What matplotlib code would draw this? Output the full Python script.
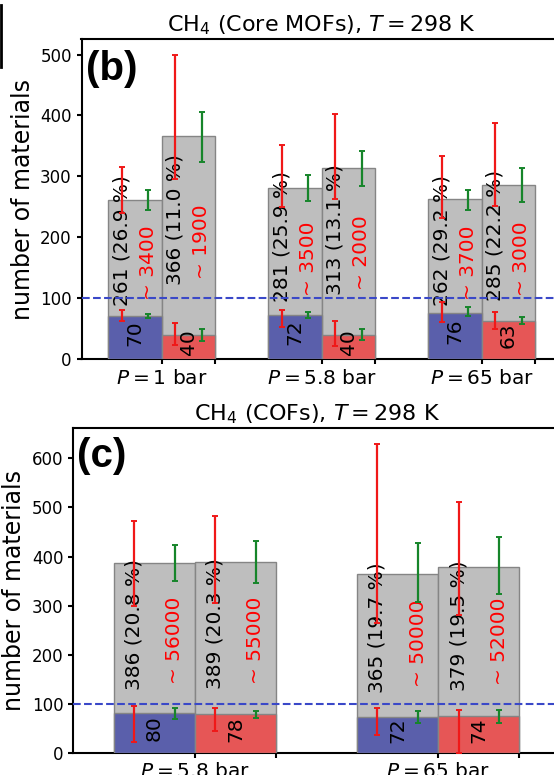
import numpy as np
import matplotlib.pyplot as plt
from matplotlib.lines import Line2D

# ---- CH4, core MOFs (panel b) ----
b_pressures = ['1', '5.8', '65']
b_total_1 = [261, 281, 262]
b_total_2 = [366, 313, 285]
b_pct_1 = [26.9, 25.9, 29.2]
b_pct_2 = [11.0, 13.1, 22.2]
b_top_1 = [70, 72, 76]
b_top_2 = [40, 40, 63]
b_approx_1 = ['3400', '3500', '3700']
b_approx_2 = ['1900', '2000', '3000']
# error ranges (low, high)
b_red_tot_1 = [(240, 315), (250, 351), (232, 334)]
b_red_tot_2 = [(295, 500), (263, 403), (252, 388)]
b_grn_tot_1 = [(245, 277), (259, 302), (245, 278)]
b_grn_tot_2 = [(323, 405), (284, 341), (257, 314)]
b_red_top_1 = [(62, 81), (53, 80), (61, 93)]
b_red_top_2 = [(23, 59), (21, 62), (50, 77)]
b_grn_top_1 = [(68, 74), (68, 78), (70, 85)]
b_grn_top_2 = [(29, 50), (31, 50), (57, 69)]

# ---- CH4, COFs (panel c) ----
c_pressures = ['5.8', '65']
c_total_1 = [386, 365]
c_total_2 = [389, 379]
c_pct_1 = [20.8, 19.7]
c_pct_2 = [20.3, 19.5]
c_top_1 = [80, 72]
c_top_2 = [78, 74]
c_approx_1 = ['56000', '50000']
c_approx_2 = ['55000', '52000']
c_red_tot_1 = [(300, 472), (265, 630)]
c_red_tot_2 = [(305, 483), (280, 511)]
c_grn_tot_1 = [(350, 424), (308, 427)]
c_grn_tot_2 = [(347, 432), (323, 439)]
c_red_top_1 = [(21, 95), (37, 91)]
c_red_top_2 = [(45, 92), (0, 88)]
c_grn_top_1 = [(69, 91), (60, 85)]
c_grn_top_2 = [(71, 86), (60, 87)]

W = 1 / 3
GRAY = '#bebebe'
EDGE = '#858585'
BLUE = '#5a5fab'
RED = '#e65656'
ERR_RED = '#f01818'
ERR_GRN = '#16852a'
FS_TXT = 14.5


def err(ax, x, rng, color):
    lo, hi = rng
    ax.errorbar(x, (lo + hi) / 2, yerr=(hi - lo) / 2, fmt='none', ecolor=color,
                elinewidth=1.6, capsize=2, capthick=1.4, zorder=6)


def draw_series(ax, xs, totals, pcts, tops, approx, color,
                red_tot, grn_tot, red_top, grn_top):
    ax.bar(xs, totals, W, color=GRAY, edgecolor=EDGE, linewidth=1, zorder=2)
    ax.bar(xs, tops, W, color=color, edgecolor=EDGE, linewidth=1, zorder=3)
    for i, x in enumerate(xs):
        ax.text(x - W / 4, totals[i] / 3, f'{totals[i]} ({pcts[i]:.1f} %)',
                rotation=90, ha='center', va='bottom', fontsize=FS_TXT, zorder=5)
        ax.annotate(f'~ {approx[i]}', (x + W / 4, totals[i] / 3), xytext=(0, 4),
                    textcoords='offset points', rotation=90, ha='center',
                    va='bottom', fontsize=FS_TXT, color='red', zorder=5)
        ax.annotate(str(tops[i]), (x, tops[i] / 2), xytext=(0, 3.5),
                    textcoords='offset points', rotation=90, ha='center',
                    va='center', fontsize=FS_TXT, zorder=5)
        err(ax, x - W / 4, red_tot[i], ERR_RED)
        err(ax, x + W / 4, grn_tot[i], ERR_GRN)
        err(ax, x - W / 4, red_top[i], ERR_RED)
        err(ax, x + W / 4, grn_top[i], ERR_GRN)


def style_axes(ax, pressures, ymax, title, tag, tag_xy):
    n = len(pressures)
    centers = np.arange(n)
    ax.set_xlim(-0.5, n - 0.5)
    ax.set_ylim(0, ymax * 1.05)
    ax.set_xticks(centers, [rf'$P = {p}$ bar' for p in pressures])
    ax.set_xticks(centers + W, minor=True)
    ax.tick_params(which='both', length=3.5, width=1.5, labelsize=12)
    ax.tick_params(axis='x', labelsize=14.5)
    for s in ax.spines.values():
        s.set_linewidth(1.5)
    ax.axhline(100, color='#3a48c8', ls='--', lw=1.5, zorder=7)
    ax.set_ylabel('number of materials', fontsize=17)
    ax.set_title(title, fontsize=16)
    ax.text(tag_xy[0], tag_xy[1], tag, transform=ax.transAxes, ha='left', va='top',
            fontsize=29, fontweight='bold', family='Liberation Sans')


fig = plt.figure(figsize=(5.54, 7.75), dpi=100)
ax_b = fig.add_axes([81.5 / 554, 1 - 359 / 775, 480.2 / 554, 319.7 / 775])
ax_c = fig.add_axes([73.3 / 554, 1 - 752.7 / 775, 486.7 / 554, 324.4 / 775])

xb = np.arange(len(b_pressures))
draw_series(ax_b, xb - W / 2, b_total_1, b_pct_1, b_top_1, b_approx_1, BLUE,
            b_red_tot_1, b_grn_tot_1, b_red_top_1, b_grn_top_1)
draw_series(ax_b, xb + W / 2, b_total_2, b_pct_2, b_top_2, b_approx_2, RED,
            b_red_tot_2, b_grn_tot_2, b_red_top_2, b_grn_top_2)
b_max = max(hi for r in (b_red_tot_1, b_red_tot_2) for _, hi in r)
style_axes(ax_b, b_pressures, b_max, r'CH$_4$ (Core MOFs), $T = 298$ K', '(b)',
           (0.0094, 0.967))

xc = np.arange(len(c_pressures))
draw_series(ax_c, xc - W / 2, c_total_1, c_pct_1, c_top_1, c_approx_1, BLUE,
            c_red_tot_1, c_grn_tot_1, c_red_top_1, c_grn_top_1)
draw_series(ax_c, xc + W / 2, c_total_2, c_pct_2, c_top_2, c_approx_2, RED,
            c_red_tot_2, c_grn_tot_2, c_red_top_2, c_grn_top_2)
c_max = max(hi for r in (c_red_tot_1, c_red_tot_2) for _, hi in r)
style_axes(ax_c, c_pressures, c_max, r'CH$_4$ (COFs), $T = 298$ K', '(c)',
           (0.0076, 0.974))

# edge of the neighbouring panel on the left
fig.add_artist(Line2D([0.002, 0.002], [1 - 5 / 775, 1 - 67 / 775],
                      color='k', lw=2, transform=fig.transFigure))

fig.savefig('out.png', dpi=100)
